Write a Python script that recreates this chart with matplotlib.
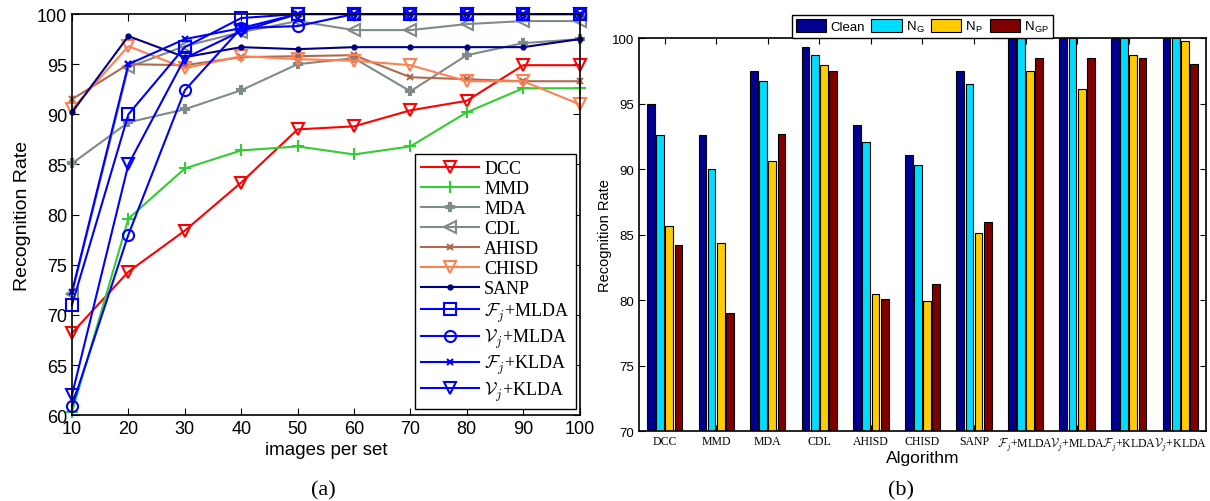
import matplotlib
matplotlib.use("Agg")
import matplotlib.pyplot as plt
import numpy as np

plt.rcParams['mathtext.fontset'] = 'cm'
plt.rcParams['font.family'] = ['Liberation Sans', 'DejaVu Sans']

# ---- (a) data ----
images_per_set = [10, 20, 30, 40, 50, 60, 70, 80, 90, 100]
dcc = [68.2, 74.3, 78.4, 83.2, 88.5, 88.8, 90.4, 91.35, 94.9, 94.9]
mmd = [60.3, 79.6, 84.6, 86.4, 86.8, 86.0, 86.8, 90.2, 92.6, 92.6]
mda = [85.1, 89.2, 90.5, 92.4, 95.0, 95.6, 92.3, 95.9, 97.1, 97.5]
cdl = [72.1, 94.7, 96.8, 98.2, 99.3, 98.4, 98.4, 99.0, 99.3, 99.3]
ahisd = [91.5, 95.0, 94.9, 95.7, 95.8, 95.9, 93.7, 93.5, 93.3, 93.3]
chisd = [90.5, 96.8, 94.6, 95.8, 95.5, 95.35, 94.9, 93.3, 93.3, 91.0]
sanp = [90.2, 97.8, 95.7, 96.7, 96.5, 96.7, 96.7, 96.7, 96.7, 97.5]
f_mlda = [71.0, 90.0, 96.7, 99.6, 100, 100, 100, 100, 100, 100]
v_mlda = [60.9, 78.0, 92.4, 98.6, 98.8, 100, 100, 100, 100, 100]
f_klda = [72.3, 95.0, 97.5, 98.6, 100, 100, 100, 100, 100, 100]
v_klda = [62.0, 85.0, 95.6, 98.3, 100, 100, 100, 100, 100, 100]

line_names = ['DCC', 'MMD', 'MDA', 'CDL', 'AHISD', 'CHISD', 'SANP',
              r'$\mathcal{F}_j$+MLDA', r'$\mathcal{V}_j$+MLDA',
              r'$\mathcal{F}_j$+KLDA', r'$\mathcal{V}_j$+KLDA']

# ---- (b) data ----
algorithms = ['DCC', 'MMD', 'MDA', 'CDL', 'AHISD', 'CHISD', 'SANP',
              r'$\mathcal{F}_j$+MLDA', r'$\mathcal{V}_j$+MLDA',
              r'$\mathcal{F}_j$+KLDA', r'$\mathcal{V}_j$+KLDA']
clean = [94.95, 92.6, 97.5, 99.3, 93.35, 91.1, 97.5, 100, 100, 100, 100]
n_g = [92.6, 90.0, 96.7, 98.75, 92.1, 90.3, 96.5, 100, 100, 100, 100]
n_p = [85.7, 84.4, 90.6, 97.95, 80.5, 79.95, 85.15, 97.5, 96.15, 98.75, 99.75]
n_gp = [84.25, 79.0, 92.7, 97.5, 80.1, 81.25, 86.0, 98.5, 98.5, 98.5, 98.0]
bar_labels = ['Clean', r'N$_\mathregular{G}$', r'N$_\mathregular{P}$', r'N$_\mathregular{GP}$']

fig = plt.figure(figsize=(12.1, 5.02), dpi=100)

# ---------- (a) ----------
ax1 = fig.add_axes([0.0595, 0.171, 0.4195, 0.799])
styles = [
    (dcc, '#FF0000', 'v', 9, 'none'),
    (mmd, '#33CC33', '+', 9, None),
    (mda, '#808A88', 'P', 6, None),
    (cdl, '#808A88', '<', 9, 'none'),
    (ahisd, '#B06A50', 'x', 4, None),
    (chisd, '#FF8050', 'v', 9, 'none'),
    (sanp, '#000080', '.', 6, None),
    (f_mlda, '#0000FF', 's', 8, 'none'),
    (v_mlda, '#0000FF', 'o', 8, 'none'),
    (f_klda, '#0000FF', 'x', 4, None),
    (v_klda, '#0000FF', 'v', 9, 'none'),
]
for (vals, col, mk, ms, mfc), name in zip(styles, line_names):
    kw = dict(color=col, marker=mk, markersize=ms, linewidth=1.5,
              markeredgewidth=1.5, label=name, clip_on=False)
    if mfc is not None:
        kw['markerfacecolor'] = mfc
    ax1.plot(images_per_set, vals, **kw)
ax1.set_xlim(10, 100)
ax1.set_ylim(60, 100)
ax1.set_xticks(images_per_set)
ax1.set_yticks(np.arange(60, 101, 5))
ax1.tick_params(direction='in', top=True, right=True, labelsize=13, length=5)
ax1.set_xlabel('images per set', fontsize=13.5, labelpad=3)
ax1.set_ylabel('Recognition Rate', fontsize=14, labelpad=4)
leg1 = ax1.legend(loc='lower right', bbox_to_anchor=(0.992, 0.015),
                  prop={'family': 'Liberation Serif', 'size': 13},
                  fancybox=False, edgecolor='black', framealpha=1,
                  handlelength=3.2, labelspacing=0.17, borderpad=0.35,
                  handletextpad=0.3, borderaxespad=0.0)
leg1.get_frame().set_linewidth(1.0)
for s in ax1.spines.values():
    s.set_linewidth(1.2)

# ---------- (b) ----------
ax2 = fig.add_axes([0.528, 0.139, 0.4687, 0.783])
x = np.arange(1, len(algorithms) + 1)
colors = ['#000090', '#00DDFF', '#FFCC00', '#800000']
series = [clean, n_g, n_p, n_gp]
step = 0.178
width = 0.15
for i, (vals, col, lab) in enumerate(zip(series, colors, bar_labels)):
    ax2.bar(x + (i - 1.5) * step, np.array(vals) - 70, width=width, bottom=70,
            color=col, edgecolor='black', linewidth=0.8, label=lab)
ax2.set_xlim(0.5, 11.5)
ax2.set_ylim(70, 100)
ax2.set_yticks(np.arange(70, 101, 5))
ax2.tick_params(direction='in', top=True, right=True, length=4)
ax2.tick_params(axis='y', labelsize=9.5)
ax2.set_xticks(x)
ax2.set_xticklabels(algorithms, fontfamily='Liberation Serif', fontsize=8.5)
ax2.tick_params(axis='x', pad=3)
ax2.set_xlabel('Algorithm', fontsize=12.5, labelpad=-2)
ax2.set_ylabel('Recognition Rate', fontsize=10.5, labelpad=0)
leg2 = ax2.legend(loc='lower center', bbox_to_anchor=(0.5, 1.0), ncol=4,
                  fontsize=9.5, fancybox=False, edgecolor='black',
                  framealpha=1, handlelength=2.3, handleheight=1.1,
                  columnspacing=0.5, handletextpad=0.3, borderpad=0.3,
                  borderaxespad=0.0)
leg2.get_frame().set_linewidth(1.0)
for s in ax2.spines.values():
    s.set_linewidth(1.2)

# captions
fig.text(0.267, 0.012, '(a)', fontsize=16, family='Liberation Serif', ha='center')
fig.text(0.745, 0.012, '(b)', fontsize=16, family='Liberation Serif', ha='center')

fig.savefig('out.png', dpi=100)
